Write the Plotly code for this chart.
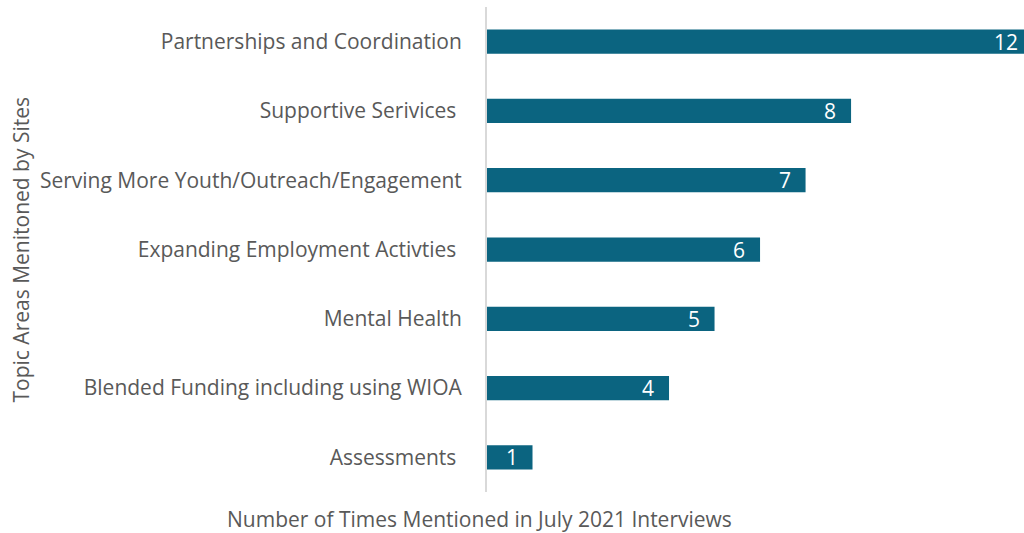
import plotly.graph_objects as go

categories = [
    "Assessments\u00a0",
    "Blended Funding including using WIOA",
    "Mental Health",
    "Expanding Employment Activties\u00a0",
    "Serving More Youth/Outreach/Engagement",
    "Supportive Serivices\u00a0",
    "Partnerships and Coordination",
]
values = [1, 4, 5, 6, 7, 8, 12]

FONT = "Open Sans"
GREY = "#595959"
XMAX = 11.8

fig = go.Figure(go.Bar(
    y=categories,
    x=values,
    orientation="h",
    marker=dict(color="#0b6480", line=dict(width=0)),
    textposition="none",
    hoverinfo="x+y",
))

fig.update_layout(
    width=1024, height=533,
    margin=dict(l=487, r=0, t=7, b=41, autoexpand=False),
    plot_bgcolor="white", paper_bgcolor="white",
    bargap=0.65,
    showlegend=False,
    font=dict(family=FONT, color=GREY),
    xaxis=dict(range=[0, XMAX], showgrid=False, zeroline=False,
               showticklabels=False, showline=False, fixedrange=True),
    yaxis=dict(showgrid=False, zeroline=False, showline=True,
               linecolor="#d9d9d9", linewidth=2, automargin=False,
               tickfont=dict(family=FONT, size=21, color=GREY),
               ticks="", ticklabelstandoff=19),
)

# value labels inside bar ends (paper coords so the clipped 12 bar still shows its label)
for cat, v in zip(categories, values):
    fig.add_annotation(text=str(v), xref="paper", yref="y",
                       x=v / XMAX, y=cat, xanchor="right", yanchor="middle",
                       xshift=-13, showarrow=False,
                       font=dict(family=FONT, size=21, color="white"))

fig.add_annotation(text="Number of Times Mentioned in July 2021 Interviews",
                   xref="paper", yref="paper", x=(479 - 487) / 537, y=0,
                   xanchor="center", yanchor="top", yshift=-11, showarrow=False,
                   font=dict(family=FONT, size=21, color=GREY))
fig.add_annotation(text="Topic Areas Menitoned by Sites",
                   xref="paper", yref="paper", x=(20 - 487) / 537, y=0.5,
                   xanchor="center", yanchor="middle", textangle=-90,
                   showarrow=False, font=dict(family=FONT, size=21, color=GREY))

fig.write_html("out.html", config={"displayModeBar": False},
               post_script="document.body.style.margin='0';document.body.style.padding='0';")
